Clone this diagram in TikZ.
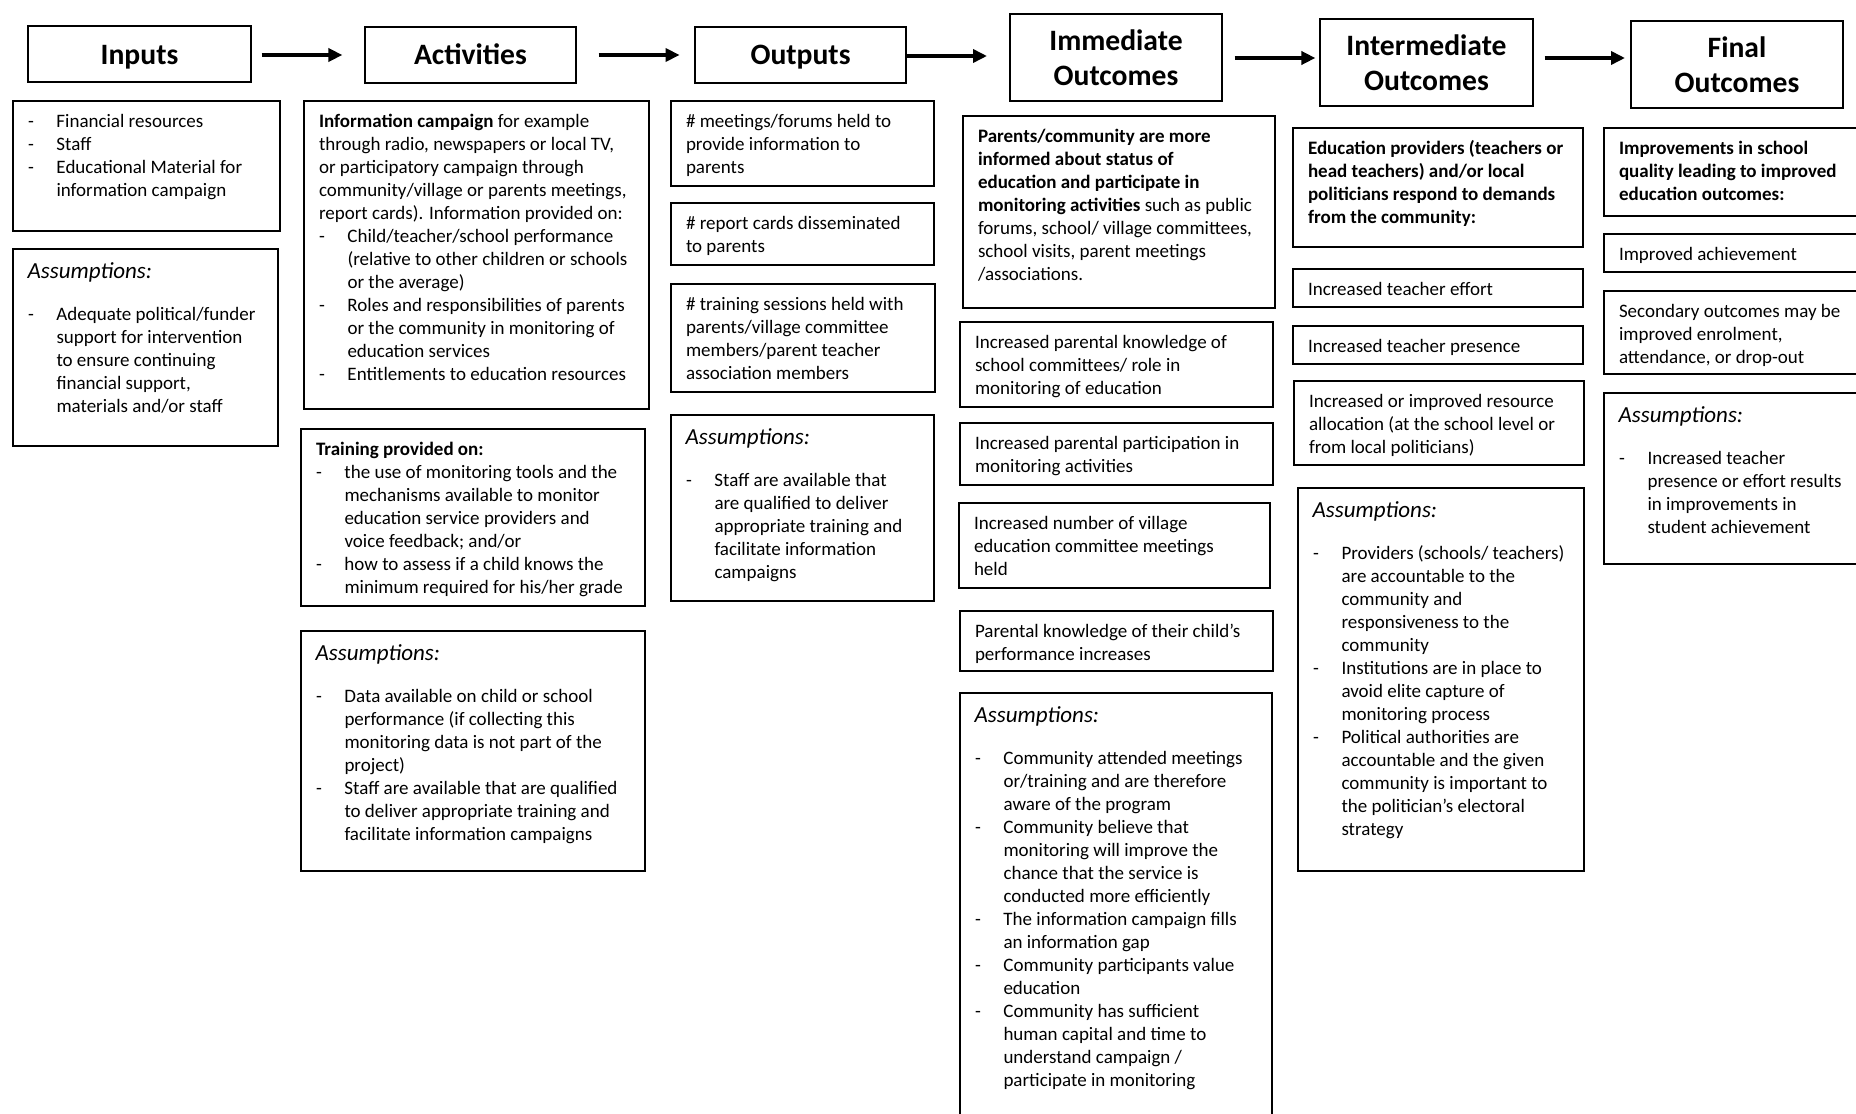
\documentclass[tikz,border=0pt]{standalone}
\usepackage{fontspec}
\setmainfont{Carlito}
\usetikzlibrary{fit,arrows.meta}
\newlength{\bi}\setlength{\bi}{14.25pt}
\newcommand{\dsh}{\makebox[\bi][l]{-}}
\newcommand{\hin}{\hspace*{\bi}}
\newcommand{\cbox}[5]{\node[bx, fit={(#2,#3) (#4,#5)}] (#1) {};}
\newcommand{\ctext}[2]{\node[tx] (#1-t) at ([xshift=7.5pt,yshift=-5.2pt]#1.north west) {\strut #2};}
\newcommand{\cassume}[2]{\node[asmh] (#1-h) at ([xshift=7.3pt,yshift=-4.85pt]#1.north west) {\strut Assumptions:};
  \node[tx] (#1-t) at ([xshift=7.5pt,yshift=-27.7pt]#1.north west) {\strut #2};}
\tikzset{
  bx/.style={draw, line width=1.1pt, inner sep=0pt, outer sep=0pt},
  hdr/.style={draw, line width=1pt, inner sep=0pt, outer sep=0pt},
  hdrt/.style={inner sep=0pt, outer sep=0pt, align=center,
    font=\fontsize{14.8}{17.5}\selectfont\bfseries},
  tx/.style={anchor=north west, inner sep=0pt, outer sep=0pt, align=left,
    font=\fontsize{9.5}{11.5}\selectfont},
  asmh/.style={anchor=north west, inner sep=0pt, outer sep=0pt,
    font=\fontsize{11.5}{13.8}\selectfont\itshape},
  arr/.style={line width=2pt, -{Triangle[length=7pt,width=6.5pt]}}
}
\begin{document}
\begin{tikzpicture}[x=0.5pt,y=-0.5pt]
\path[use as bounding box, fill=white] (0,0) rectangle (1856,1113);
\clip (0,0) rectangle (1856,1113);

% headers
\coordinate (hb) at (0,65);
\node[hdr, fit={(28,26) (251,82)}] (inputs) {};
\node[hdrt, anchor=base] (inputs-l) at (inputs.center |- hb) {Inputs};
\node[hdr, fit={(365,27) (576,83)}] (activities) {};
\node[hdrt, anchor=base] (activities-l) at (activities.center |- hb) {Activities};
\node[hdr, fit={(695,27) (906,83)}] (outputs) {};
\node[hdrt, anchor=base] (outputs-l) at (outputs.center |- hb) {Outputs};
\node[hdr, fit={(1010,14) (1222,101)}] (immediate) {};
\node[hdrt] (immediate-l) at (immediate.center) {Immediate\\Outcomes};
\node[hdr, fit={(1320,19) (1533,106)}] (intermediate) {};
\node[hdrt] (intermediate-l) at (intermediate.center) {Intermediate\\Outcomes};
\node[hdr, fit={(1631,21) (1843,108)}] (final) {};
\node[hdrt] (final-l) at (final.center) {Final\\Outcomes};

% arrows
\coordinate (ya) at (0,55);
\coordinate (yb) at (0,56);
\coordinate (yc) at (0,58);
\draw[arr, shorten <=5.35pt, shorten >=11.3pt] (inputs.east |- ya) -- (activities.west |- ya);
\draw[arr, shorten <=11.25pt, shorten >=7.7pt] (activities.east |- ya) -- (outputs.west |- ya);
\draw[arr, shorten <=0.5pt, shorten >=11.5pt] (outputs.east |- yb) -- (immediate.west |- yb);
\draw[arr, shorten <=6.3pt, shorten >=2.3pt] (immediate.east |- yc) -- (intermediate.west |- yc);
\draw[arr, shorten <=5.85pt, shorten >=3pt] (intermediate.east |- yc) -- (final.west |- yc);

% column 1: inputs
\cbox{in1}{13}{101}{280}{231}
\ctext{in1}{\dsh Financial resources\\
\dsh Staff\\
\dsh Educational Material for\\
\hin information campaign}
\cbox{inA}{13}{249}{278}{446}
\cassume{inA}{\dsh Adequate political/funder\\
\hin support for intervention\\
\hin to ensure continuing\\
\hin financial support,\\
\hin materials and/or staff}

% column 2: activities
\cbox{act1}{304}{101}{649}{409}
\ctext{act1}{\textbf{Information campaign} for example\\
through radio, newspapers or local TV,\\
or participatory campaign through\\
community/village or parents meetings,\\
report cards). Information provided on:\\
\dsh Child/teacher/school performance\\
\hin (relative to other children or schools\\
\hin or the average)\\
\dsh Roles and responsibilities of parents\\
\hin or the community in monitoring of\\
\hin education services\\
\dsh Entitlements to education resources}
\cbox{act2}{301}{429}{645}{606}
\ctext{act2}{\textbf{Training provided on:}\\
\dsh the use of monitoring tools and the\\
\hin mechanisms available to monitor\\
\hin education service providers and\\
\hin voice feedback; and/or\\
\dsh how to assess if a child knows the\\
\hin minimum required for his/her grade}
\cbox{actA}{301}{631}{645}{871}
\cassume{actA}{\dsh Data available on child or school\\
\hin performance (if collecting this\\
\hin monitoring data is not part of the\\
\hin project)\\
\dsh Staff are available that are qualified\\
\hin to deliver appropriate training and\\
\hin facilitate information campaigns}

% column 3: outputs
\cbox{out1}{671}{101}{934}{186}
\ctext{out1}{\# meetings/forums held to\\
provide information to\\
parents}
\cbox{out2}{671}{203}{934}{265}
\ctext{out2}{\# report cards disseminated\\
to parents}
\cbox{out3}{671}{284}{935}{392}
\ctext{out3}{\# training sessions held with\\
parents/village committee\\
members/parent teacher\\
association members}
\cbox{outA}{671}{415}{934}{601}
\cassume{outA}{\dsh Staff are available that\\
\hin are qualified to deliver\\
\hin appropriate training and\\
\hin facilitate information\\
\hin campaigns}

% column 4: immediate outcomes
\cbox{imm1}{963}{116}{1275}{308}
\ctext{imm1}{\textbf{Parents/community are more}\\
\textbf{informed about status of}\\
\textbf{education and participate in}\\
\textbf{monitoring activities} such as public\\
forums, school/ village committees,\\
school visits, parent meetings\\
/associations.}
\cbox{imm2}{960}{322}{1273}{407}
\ctext{imm2}{Increased parental knowledge of\\
school committees/ role in\\
monitoring of education}
\cbox{imm3}{960}{423}{1273}{485}
\ctext{imm3}{Increased parental participation in\\
monitoring activities}
\cbox{imm4}{959}{503}{1270}{588}
\ctext{imm4}{Increased number of village\\
education committee meetings\\
held}
\cbox{imm5}{960}{611}{1273}{671}
\ctext{imm5}{Parental knowledge of their child’s\\
performance increases}
\cbox{immA}{960}{693}{1272}{1130}
\cassume{immA}{\dsh Community attended meetings\\
\hin or/training and are therefore\\
\hin aware of the program\\
\dsh Community believe that\\
\hin monitoring will improve the\\
\hin chance that the service is\\
\hin conducted more efficiently\\
\dsh The information campaign fills\\
\hin an information gap\\
\dsh Community participants value\\
\hin education\\
\dsh Community has sufficient\\
\hin human capital and time to\\
\hin understand campaign /\\
\hin participate in monitoring}

% column 5: intermediate outcomes
\cbox{int1}{1293}{128}{1583}{247}
\ctext{int1}{\textbf{Education providers (teachers or}\\
\textbf{head teachers) and/or local}\\
\textbf{politicians respond to demands}\\
\textbf{from the community:}}
\cbox{int2}{1293}{269}{1583}{307}
\ctext{int2}{Increased teacher effort}
\cbox{int3}{1293}{326}{1583}{364}
\ctext{int3}{Increased teacher presence}
\cbox{int4}{1294}{381}{1584}{465}
\ctext{int4}{Increased or improved resource\\
allocation (at the school level or\\
from local politicians)}
\cbox{intA}{1298}{488}{1584}{871}
\cassume{intA}{\dsh Providers (schools/ teachers)\\
\hin are accountable to the\\
\hin community and\\
\hin responsiveness to the\\
\hin community\\
\dsh Institutions are in place to\\
\hin avoid elite capture of\\
\hin monitoring process\\
\dsh Political authorities are\\
\hin accountable and the given\\
\hin community is important to\\
\hin the politician’s electoral\\
\hin strategy}

% column 6: final outcomes
\cbox{fin1}{1604}{128}{1870}{216}
\ctext{fin1}{\textbf{Improvements in school}\\
\textbf{quality leading to improved}\\
\textbf{education outcomes:}}
\cbox{fin2}{1604}{234}{1870}{272}
\ctext{fin2}{Improved achievement}
\cbox{fin3}{1604}{291}{1870}{374}
\ctext{fin3}{Secondary outcomes may be\\
improved enrolment,\\
attendance, or drop-out}
\cbox{finA}{1604}{393}{1870}{564}
\cassume{finA}{\dsh Increased teacher\\
\hin presence or effort results\\
\hin in improvements in\\
\hin student achievement}
\end{tikzpicture}
\end{document}
